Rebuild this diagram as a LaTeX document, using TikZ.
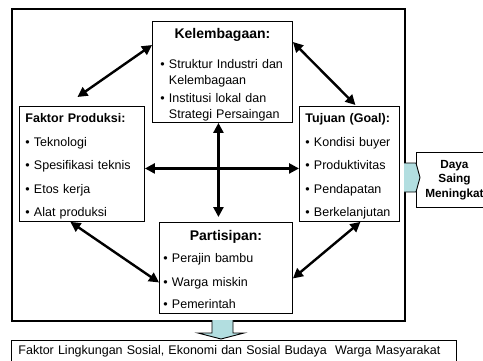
\documentclass[tikz,border=0pt]{standalone}
\usepackage{fontspec}
\setmainfont{Liberation Sans}
\usetikzlibrary{arrows.meta}
\definecolor{arrowcyan}{RGB}{178,222,224}

\begin{document}
\begin{tikzpicture}
[x=1pt, y=-1pt, every node/.style={inner sep=0pt, font=\fontsize{12.5}{16}\selectfont},
 box/.style={draw=black, line width=0.9pt, fill=white, anchor=north west, align=left},
 biarrow/.style={line width=2.4pt, {Triangle[length=10pt,width=10pt]}-{Triangle[length=10pt,width=10pt]}},
 blockarrow/.style={fill=arrowcyan, draw=black, line width=0.9pt}]
\useasboundingbox (0,0) rectangle (483,360);
\node (frame) [draw, line width=1.6pt, anchor=north west, minimum width=393pt, minimum height=312pt] at (11,8) {};
\node (kel) [box, minimum width=140pt, minimum height=101pt, text width=124pt] at (152,21) {\makebox[\hsize]{\fontsize{14}{16}\selectfont\textbf{Kelembagaan:}}\\[14.5pt]\textbullet\ Struktur Industri dan\\\hphantom{\textbullet\ }Kelembagaan\\[2pt]\textbullet\ Institusi lokal dan\\\hphantom{\textbullet\ }Strategi Persaingan\vspace{-6pt}};
\node (fak) [box, minimum width=125pt, minimum height=115pt, text width=113pt] at (19,106) {\textbf{Faktor Produksi:}\\[7.5pt]\textbullet\ Teknologi\\[7.5pt]\textbullet\ Spesifikasi teknis\\[7.5pt]\textbullet\ Etos kerja\\[7.5pt]\textbullet\ Alat produksi\vspace{-5pt}};
\node (tuj) [box, minimum width=100pt, minimum height=115pt, text width=88pt] at (299,106) {\textbf{Tujuan (Goal):}\\[7.5pt]\textbullet\ Kondisi buyer\\[7.5pt]\textbullet\ Produktivitas\\[7.5pt]\textbullet\ Pendapatan\\[7.5pt]\textbullet\ Berkelanjutan\vspace{-5pt}};
\node (par) [box, minimum width=133pt, minimum height=91pt, text width=125pt] at (159,222) {\makebox[\hsize]{\fontsize{14}{16}\selectfont\textbf{Partisipan:}}\\[6pt]\textbullet\ Perajin bambu\\[8pt]\textbullet\ Warga miskin\\[6pt]\textbullet\ Pemerintah\vspace{-3pt}};
\node (daya) [box, minimum width=76pt, minimum height=55pt, align=center, font=\bfseries\fontsize{11.8}{14.5}\selectfont] at (416,152) {Daya\\Saing\\Meningkat};
\node (env) [box, inner xsep=7pt, inner ysep=5pt, text width=431pt] at (11,340) {Faktor Lingkungan Sosial, Ekonomi dan Sosial Budaya~ Warga Masyarakat};
% arrows between the boxes
\draw [biarrow] ([xshift=-4.5pt,yshift=9pt]fak.north) -- ([yshift=-24pt]kel.north west);
\draw [biarrow] ([yshift=-21pt]kel.north east) -- ([xshift=6pt,yshift=1pt]tuj.north);
\draw [biarrow] ([xshift=-11.5pt]fak.south) -- ([yshift=-14.5pt]par.west);
\draw [biarrow] ([xshift=11pt]tuj.south) -- ([yshift=-10.5pt]par.east);
\draw [biarrow] ([xshift=-4pt]kel.south) -- ([xshift=-4pt,yshift=5pt]kel.south |- par.north);
\draw [biarrow] ([yshift=-4.5pt]fak.east) -- ([yshift=-4.5pt]tuj.west);
% block arrows
\filldraw [blockarrow] (404,163) -- (416,163) -- (420,177.5) -- (416,192) -- (404,192);
\filldraw [blockarrow] (212,320) -- (212,333) -- (198,333) -- (221,339) -- (244,333) -- (233,333) -- (233,320);
\end{tikzpicture}
\end{document}
